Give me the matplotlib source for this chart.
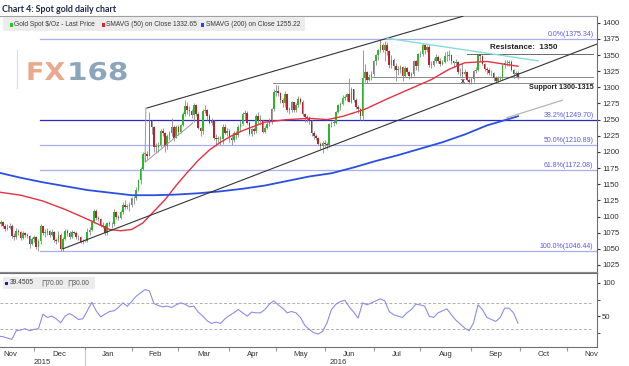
import numpy as np
import pandas as pd
import matplotlib
matplotlib.use("Agg")
import matplotlib.pyplot as plt
from matplotlib.patches import Rectangle, PathPatch
from matplotlib.textpath import TextPath
from matplotlib.font_manager import FontProperties
from matplotlib.transforms import blended_transform_factory, Affine2D, IdentityTransform

# daily spot gold, 9 Nov 2015 .. 30 Sep 2016 (business days)
closes = [
    1089, 1092, 1085, 1081, 1083, 1086, 1070, 1068, 1078, 1076, 1067, 1074, 1071, 1070, 1058, 1065,  # Nov
    1068, 1053, 1062, 1085, 1075, 1075, 1077, 1072, 1076, 1063, 1062, 1072, 1050, 1066, 1077, 1074,
    1069, 1076, 1075, 1069, 1068, 1061, 1062,  # Dec
    1062, 1076, 1079, 1092, 1108, 1098, 1096, 1086, 1086, 1074, 1090, 1089, 1088, 1107, 1099, 1097,
    1107, 1118, 1115, 1116, 1118,  # Jan
    1128, 1128, 1141, 1156, 1173, 1197, 1197, 1194, 1248, 1239, 1208, 1208, 1210, 1232, 1230, 1209,
    1225, 1229, 1239, 1221, 1238,  # Feb
    1231, 1241, 1259, 1271, 1265, 1263, 1257, 1272, 1259, 1237, 1233, 1263, 1265, 1255, 1245, 1248,
    1222, 1220, 1220, 1220, 1238, 1230, 1233,  # Mar
    1222, 1218, 1229, 1226, 1238, 1243, 1258, 1261, 1245, 1227, 1235, 1233, 1255, 1250, 1250, 1231,
    1237, 1243, 1250, 1266, 1292,  # Apr
    1295, 1291, 1280, 1275, 1290, 1265, 1265, 1277, 1265, 1273, 1282, 1278, 1258, 1254, 1252, 1248,
    1229, 1225, 1221, 1213, 1209, 1214,  # May
    1212, 1210, 1243, 1245, 1245, 1262, 1272, 1274, 1284, 1285, 1289, 1278, 1298, 1280, 1270, 1266,
    1255, 1315, 1324, 1311, 1316, 1321,  # Jun
    1340, 1350, 1358, 1366, 1358, 1366, 1356, 1335, 1343, 1333, 1327, 1329, 1331, 1318, 1330, 1323,
    1318, 1320, 1340, 1333, 1351,  # Jul
    1352, 1366, 1357, 1363, 1335, 1335, 1340, 1347, 1340, 1336, 1339, 1348, 1349, 1350, 1340, 1337,
    1339, 1324, 1323, 1321, 1324, 1312, 1308,  # Aug
    1313, 1325, 1327, 1350, 1348, 1336, 1328, 1327, 1322, 1322, 1314, 1310, 1314, 1314, 1335, 1337,
    1338, 1339, 1327, 1320, 1322, 1316,  # Sep
]
highs = [
    1096, 1095, 1093, 1088, 1089, 1090, 1088, 1075, 1082, 1081, 1078, 1077, 1076, 1074, 1072, 1068,
    1072, 1070, 1065, 1089, 1086, 1080, 1082, 1079, 1080, 1077, 1067, 1078, 1075, 1069, 1081, 1081,
    1077, 1079, 1077, 1078, 1072, 1070, 1066,
    1064, 1082, 1084, 1095, 1112, 1112, 1101, 1098, 1091, 1089, 1092, 1093, 1092, 1111, 1109, 1102,
    1110, 1122, 1126, 1119, 1122,
    1130, 1132, 1146, 1158, 1176, 1200, 1200, 1201, 1262, 1249, 1240, 1214, 1215, 1235, 1237, 1231,
    1228, 1233, 1253, 1241, 1242,
    1241, 1244, 1262, 1280, 1278, 1271, 1267, 1275, 1274, 1262, 1239, 1266, 1273, 1267, 1258, 1252,
    1250, 1227, 1224, 1224, 1243, 1243, 1237,
    1236, 1226, 1232, 1233, 1241, 1249, 1262, 1265, 1263, 1248, 1237, 1239, 1258, 1262, 1257, 1250,
    1240, 1246, 1252, 1268, 1297,
    1304, 1304, 1293, 1283, 1294, 1290, 1270, 1279, 1278, 1275, 1286, 1285, 1280, 1260, 1257, 1255,
    1250, 1233, 1228, 1223, 1215, 1217,
    1218, 1215, 1245, 1248, 1250, 1264, 1274, 1277, 1288, 1288, 1291, 1315, 1300, 1295, 1283, 1272,
    1268, 1358, 1336, 1326, 1320, 1325,
    1342, 1352, 1360, 1375, 1368, 1372, 1370, 1358, 1350, 1345, 1338, 1333, 1335, 1333, 1333, 1331,
    1326, 1323, 1342, 1343, 1353,
    1356, 1368, 1367, 1366, 1367, 1341, 1345, 1352, 1350, 1345, 1343, 1354, 1356, 1358, 1352, 1341,
    1344, 1341, 1330, 1337, 1328, 1325, 1315,
    1316, 1327, 1331, 1352, 1352, 1350, 1338, 1332, 1330, 1327, 1324, 1317, 1318, 1317, 1338, 1343,
    1342, 1343, 1342, 1329, 1325, 1325,
]
lows = [
    1085, 1086, 1083, 1077, 1079, 1080, 1067, 1063, 1066, 1072, 1064, 1065, 1068, 1067, 1052, 1056,
    1061, 1050, 1046, 1058, 1072, 1068, 1071, 1069, 1070, 1060, 1057, 1060, 1047, 1047, 1063, 1070,
    1066, 1067, 1073, 1066, 1064, 1059, 1058,
    1060, 1060, 1072, 1078, 1090, 1095, 1093, 1084, 1082, 1071, 1072, 1085, 1082, 1086, 1096, 1094,
    1096, 1104, 1111, 1111, 1109,
    1115, 1120, 1126, 1139, 1150, 1172, 1186, 1189, 1193, 1228, 1200, 1199, 1200, 1208, 1225, 1200,
    1205, 1218, 1225, 1217, 1221,
    1226, 1230, 1240, 1256, 1258, 1256, 1252, 1246, 1255, 1235, 1225, 1228, 1260, 1250, 1243, 1242,
    1219, 1209, 1215, 1210, 1212, 1228, 1225,
    1215, 1211, 1215, 1220, 1223, 1232, 1242, 1249, 1243, 1226, 1225, 1228, 1230, 1244, 1243, 1230,
    1230, 1235, 1240, 1244, 1264,
    1287, 1287, 1275, 1269, 1270, 1262, 1258, 1262, 1262, 1262, 1270, 1274, 1255, 1247, 1247, 1244,
    1225, 1220, 1218, 1210, 1205, 1199,
    1206, 1205, 1208, 1238, 1240, 1243, 1260, 1265, 1272, 1280, 1279, 1277, 1276, 1277, 1266, 1260,
    1250, 1250, 1309, 1306, 1310, 1312,
    1318, 1335, 1342, 1354, 1354, 1340, 1350, 1330, 1330, 1327, 1310, 1319, 1322, 1310, 1316, 1320,
    1313, 1315, 1318, 1327, 1325,
    1347, 1349, 1352, 1354, 1331, 1330, 1333, 1338, 1338, 1333, 1334, 1337, 1340, 1342, 1336, 1332,
    1333, 1320, 1318, 1315, 1318, 1310, 1305,
    1305, 1308, 1322, 1325, 1340, 1334, 1325, 1320, 1319, 1318, 1310, 1306, 1308, 1311, 1312, 1330,
    1333, 1333, 1325, 1315, 1316, 1313,
]
first_open = 1091

# moving averages (day index, value)
sma50_days = [0, 10, 20, 30, 40, 50, 55, 60, 65, 70, 75, 80, 85, 90, 95, 100, 105, 110, 120, 130,
              140, 148, 155, 165, 175, 185, 195, 203, 210, 220, 234]
sma50_vals = [1138, 1133, 1124, 1111, 1096, 1080, 1078, 1080, 1090, 1108, 1126, 1148, 1168, 1187,
              1203, 1215, 1225, 1233, 1246, 1250, 1252, 1250, 1255, 1266, 1282, 1297, 1312, 1328,
              1338, 1340, 1332.65]
sma200_days = [0, 10, 20, 30, 40, 50, 60, 70, 80, 90, 100, 110, 120, 130, 140, 150, 160, 170, 180,
               190, 200, 210, 220, 234]
sma200_vals = [1168, 1160, 1153, 1147, 1141, 1137, 1133, 1133, 1134, 1136, 1139, 1143, 1148, 1155,
               1162, 1167, 1176, 1186, 1195, 1205, 1215, 1227, 1241, 1255.22]

# RSI, every second trading day
rsi_vals = [20, 19, 17, 15, 28, 29, 31, 28, 30, 31,
            53, 48, 50, 46, 40, 50, 54, 50, 45, 46,
            58, 71, 58, 49, 53, 57, 58, 63, 70, 65,
            72, 80, 85, 90, 88, 69, 66, 64, 65, 63,
            67, 70, 68, 64, 65, 56, 50, 43, 39, 41,
            39, 46, 51, 55, 60, 55, 50, 56, 55, 55,
            60, 68, 73, 67, 62, 55, 57, 55, 48, 36,
            30, 25, 23, 27, 40, 60, 68, 72, 74, 64,
            56, 47, 70, 67, 70, 73, 76, 73, 57, 52,
            50, 48, 55, 60, 68, 67, 65, 50, 48, 55,
            58, 61, 52, 44, 38, 32, 28, 40, 67, 60,
            48, 45, 42, 48, 62, 62, 55, 39.45]

fib_levels = [1375.34, 1249.70, 1210.89, 1172.08, 1046.44]
fib_names = ["0.0%", "38.2%", "50.0%", "61.8%", "100.0%"]

# drawn trend lines: (day index, price)
upper_channel = [(66.9, 1268), (209.2, 1410)]
lower_channel = [(29.0, 1050), (269.6, 1367)]
flag_lines = [[(66.4, 1268), (66.0, 1184), (87.6, 1245)]]
resist_trend = [(175, 1376), (243, 1341)]
sma_projection = [(229, 1253), (254, 1280)]
support_lines = [(123.6, 1306), (168.2, 1316)]
resistance_level = (211, 1352)

W, H = 629, 366
fx = lambda px: px / W
fy = lambda py: 1 - py / H

plt.rcParams["font.family"] = ["Liberation Sans", "DejaVu Sans"]
fig = plt.figure(figsize=(W / 100, H / 100), dpi=100)
ax = fig.add_axes([0, fy(273), fx(597), fy(16) - fy(273)])
ax2 = fig.add_axes([0, fy(347), fx(597), fy(273) - fy(347)])

n = len(closes)
x = np.arange(n)
c = np.array(closes, float)
o = np.r_[first_open, c[:-1]]
hi = np.maximum(np.array(highs, float), np.maximum(o, c))
lo = np.minimum(np.array(lows, float), np.minimum(o, c))
up = c >= o
ax.vlines(x, lo, hi, color="#8a8a8a", lw=0.6, zorder=2)
body = np.maximum(np.abs(c - o), 0.8)
ax.bar(x[up], body[up], bottom=np.minimum(o, c)[up], width=0.72, color="#2db52d", zorder=3)
ax.bar(x[~up], body[~up], bottom=np.minimum(o, c)[~up], width=0.72, color="#c0202c", zorder=3)

ax.plot(sma50_days, sma50_vals, color="#e5323f", lw=1.0, zorder=4)
ax.plot(sma200_days, sma200_vals, color="#2b4fe0", lw=1.3, zorder=4)

for lev, name in zip(fib_levels, fib_names):
    col = "#2a2ac0" if name == "38.2%" else "#a9aef0"
    ax.plot([18.5, 269], [lev, lev], color=col, lw=0.9, zorder=1)
    ax.text(268, lev + 1.5, f"{name}({lev:.2f})", fontsize=5, color="#5a5ad8",
            ha="right", va="bottom", zorder=5)

def seg(pts, **kw):
    xs, ys = zip(*pts)
    ax.plot(xs, ys, **kw)

seg(upper_channel, color="#333333", lw=0.8, zorder=5)
seg(lower_channel, color="#333333", lw=0.8, zorder=5)
for f in flag_lines:
    seg(f, color="#9a9a9a", lw=0.7, zorder=5)
seg(resist_trend, color="#8adada", lw=1.0, zorder=5)
seg(sma_projection, color="#b5b5b5", lw=0.9, zorder=5)
for x0, lev in support_lines:
    ax.plot([x0, 268], [lev, lev], color="#8a8a8a", lw=0.7, zorder=2)
ax.plot([resistance_level[0], 268], [resistance_level[1]] * 2, color="#6a6a6a", lw=0.7, zorder=2)

ax.text(221.4, 1360, "Resistance:  1350", fontsize=5.8, weight="bold", color="#222222", zorder=6)
ax.text(268, 1298, "Support 1300-1315", fontsize=5.2, weight="bold", color="#222222",
        ha="right", zorder=6)
ax.text(209, 1306, "x", fontsize=5, weight="bold", color="#222222", ha="center", zorder=6)

ax.set_xlim(0.68, 269.6)
ax.set_ylim(1012.6, 1410.4)
ax.set_xticks([])
ax.set_yticks(np.arange(1025, 1401, 25))
ax.yaxis.tick_right()
ax.tick_params(axis="y", length=2, pad=1.5, labelsize=5.6, colors="#333333")
ax.spines["left"].set_visible(False)
ax.spines["top"].set_color("#a0a0a0")
ax.spines["top"].set_linewidth(0.8)
ax.spines["right"].set_color("#707070")
ax.spines["bottom"].set_color("#8a8a8a")
ax.spines["bottom"].set_linewidth(1.6)

# RSI panel
ax2.plot(np.arange(0, n, 2), rsi_vals, color="#8d8de8", lw=0.8, zorder=3)
for lev in [70, 30]:
    ax2.axhline(lev, xmax=(268 - 0.68) / (269.6 - 0.68), color="#b0b0b0", lw=0.7, ls=(0, (3, 2)))
ax2.set_xlim(0.68, 269.6)
ax2.set_ylim(3.5, 115)
ax2.yaxis.tick_right()
ax2.set_yticks([50, 100])
ax2.set_yticks([25, 75], minor=True)
ax2.tick_params(axis="y", which="both", length=2, pad=1.5, labelsize=5.6, colors="#333333")
ax2.spines["left"].set_visible(False)
for s in ["top", "right", "bottom"]:
    ax2.spines[s].set_color("#707070")
    ax2.spines[s].set_linewidth(0.8)

dates = pd.bdate_range("2015-11-02", "2016-11-30")
pos = np.arange(len(dates)) - 5
months = dates.to_period("M")
starts = [pos[i] for i in range(1, len(dates)) if months[i] != months[i - 1]]
bounds = [pos[0]] + starts + [pos[-1] + 1]
centers = [(a + b) / 2 for a, b in zip(bounds[:-1], bounds[1:])]
labels = [m.strftime("%b") for m in months.unique()]
ax2.set_xticks(starts)
ax2.set_xticklabels([])
ax2.tick_params(axis="x", length=3, color="#9a9a9a")
trans = blended_transform_factory(ax2.transData, fig.transFigure)
for cx, lab in zip(centers, labels):
    fig.text(cx, fy(354), lab, transform=trans, fontsize=5.6, color="#333333",
             ha="center", va="center")
year_start = starts[1]
fig.text((0.68 + year_start) / 2, fy(363), "2015", transform=trans, fontsize=5.6,
         color="#333333", ha="center", va="center")
fig.text(153, fy(363), "2016", transform=trans, fontsize=5.6, color="#333333",
         ha="center", va="center")
fig.add_artist(plt.Line2D([year_start, year_start], [fy(350), fy(366)], transform=trans,
                          color="#c8c8c8", lw=0.8))

# title, legends, logo
fig.text(fx(2), fy(10), "Chart 4: Spot gold daily chart", fontsize=6.4, weight="bold",
         color="#1e2b48", va="center", family=["Lato", "DejaVu Sans"])
fig.patches.append(Rectangle((fx(3), fy(31)), fx(302), fy(17) - fy(31), transform=fig.transFigure,
                             facecolor="#ececec", edgecolor="none", zorder=2))
for px, col, txt in [(10, "#22cc22", "Gold Spot $/Oz - Last Price"),
                     (102, "#dd2233", "SMAVG (50) on Close 1332.65"),
                     (201, "#2244ee", "SMAVG (200) on Close 1255.22")]:
    fig.patches.append(Rectangle((fx(px), fy(26.5)), fx(3), fy(23.5) - fy(26.5),
                                 transform=fig.transFigure, facecolor=col, zorder=3))
    fig.text(fx(px + 4.5), fy(24.5), txt, fontsize=4.75, color="#3a3a3a", va="center", zorder=4)

fig.patches.append(Rectangle((fx(3), fy(289)), fx(92), fy(277) - fy(289), transform=fig.transFigure,
                             facecolor="#ececec", edgecolor="none", zorder=2))
fig.patches.append(Rectangle((fx(5), fy(284.5)), fx(3), fy(281.5) - fy(284.5),
                             transform=fig.transFigure, facecolor="#1a1ad0", zorder=3))
fig.text(fx(9.5), fy(283), "39.4505", fontsize=4.8, color="#3a3a3a", va="center", zorder=4)
fig.text(fx(41), fy(283), "\u220f70.00", fontsize=4.8, color="#555555", va="center", zorder=4)
fig.text(fx(67), fy(283), "\u220f30.00", fontsize=4.8, color="#555555", va="center", zorder=4)

# FX168 watermark, stretched wide like the original logo
fig.add_artist(plt.Line2D([fx(17), fx(17)], [fy(50), fy(88)], color="#dcdcdc", lw=0.8))
logo_font = FontProperties(family="DejaVu Sans", weight="bold")
for txt, px, col, sx in [("FX", 26, "#eaa88c", 1.1), ("168", 67, "#8ba6ba", 1.2)]:
    tp = TextPath((0, 0), txt, size=24.5, prop=logo_font)
    tr = Affine2D().scale(sx, 1.0).translate(px, H - 80)
    fig.add_artist(PathPatch(tp, transform=tr + IdentityTransform(), facecolor=col,
                             edgecolor="none", zorder=6))

fig.savefig("out.png", dpi=100)
